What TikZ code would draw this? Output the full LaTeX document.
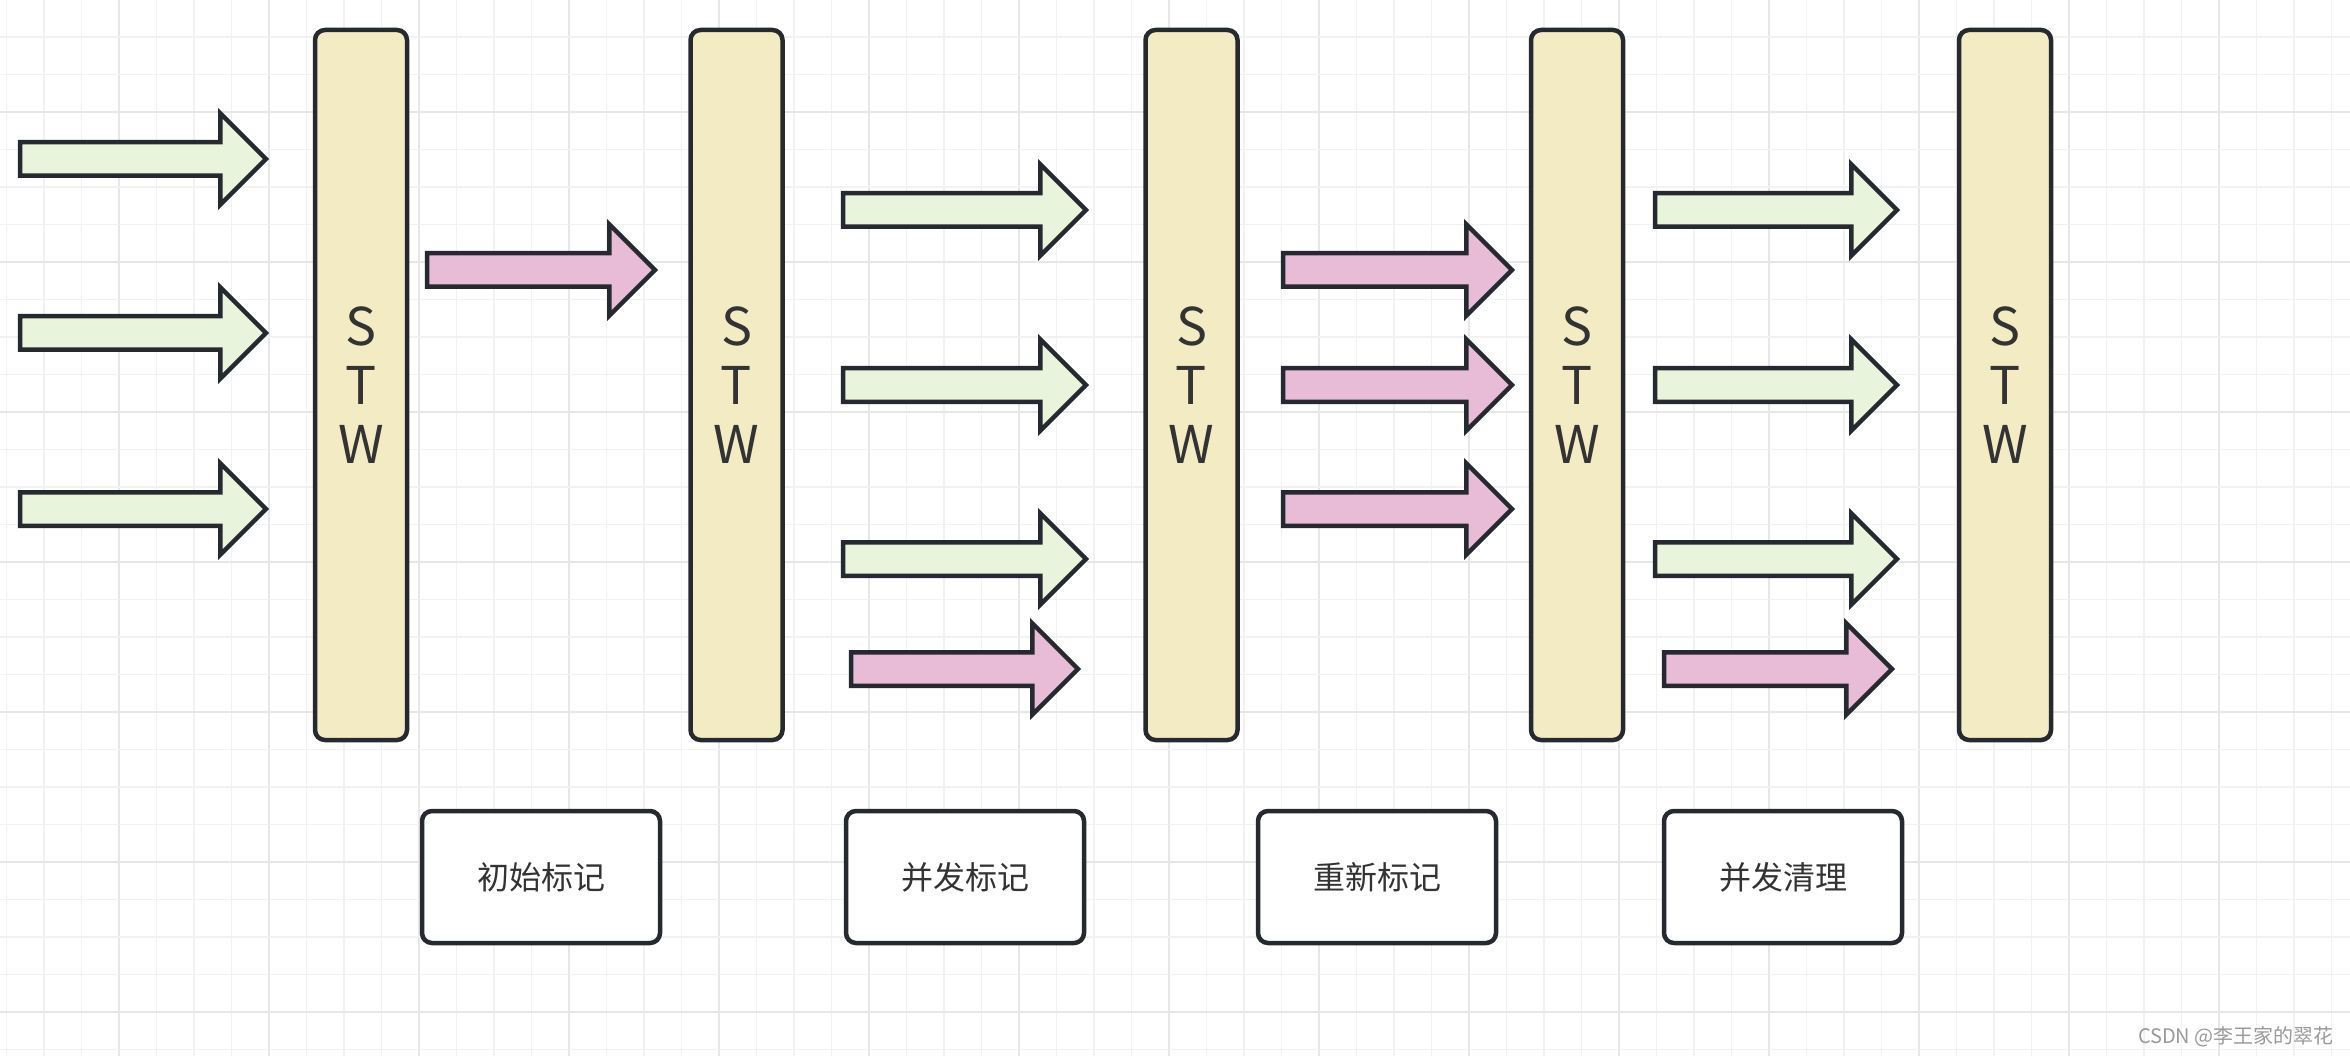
\documentclass[tikz,border=0pt]{standalone}
\usepackage{fontspec}
\setmainfont{Noto Sans CJK SC}
\usetikzlibrary{shapes.arrows}
\definecolor{stroke}{HTML}{262A30}
\definecolor{greenfill}{HTML}{E8F4DC}
\definecolor{pinkfill}{HTML}{E8BCD6}
\definecolor{stwfill}{HTML}{F3EBC4}
\definecolor{txt}{HTML}{333333}
\definecolor{gridminor}{HTML}{F2F2F2}
\definecolor{gridmajor}{HTML}{E7E7E7}
\definecolor{wmark}{HTML}{9A9A9A}
\begin{document}
\begin{tikzpicture}[x=1pt,y=-1pt,
  bigarrow/.style={single arrow, draw=stroke, line width=4.5pt, inner sep=0pt, outer sep=0pt,
    text height=29pt, text depth=0pt, single arrow head extend=29pt,
    single arrow tip angle=90, shape border rotate=0, anchor=tail},
  garrow/.style={bigarrow, fill=greenfill},
  parrow/.style={bigarrow, fill=pinkfill},
  stwbox/.style={draw=stroke, fill=stwfill, line width=4.5pt, rounded corners=10pt,
    minimum width=92pt, minimum height=710pt, inner sep=0pt, align=center, text=txt,
    font=\fontsize{52pt}{59pt}\selectfont},
  phasebox/.style={draw=stroke, fill=white, line width=4.5pt, rounded corners=10pt,
    minimum width=238pt, minimum height=132pt, inner sep=0pt, text=txt,
    font=\fontsize{32pt}{38pt}\selectfont},
  minorgrid/.style={draw=gridminor, line width=1.5pt},
  majorgrid/.style={draw=gridmajor, line width=2pt}]
\useasboundingbox (0,0) rectangle (2350,1056);
\fill[white] (0,0) rectangle (2350,1056);
% grid
\foreach \k in {0,...,62}{
  \pgfmathtruncatemacro{\m}{mod(\k,4)}
  \ifnum\m=3
    \draw[majorgrid] ({6.5+37.5*\k},0) -- ({6.5+37.5*\k},1056);
  \else
    \draw[minorgrid] ({6.5+37.5*\k},0) -- ({6.5+37.5*\k},1056);
  \fi
}
\foreach \k in {1,...,28}{
  \pgfmathtruncatemacro{\m}{mod(\k,4)}
  \ifnum\m=3
    \draw[majorgrid] (0,{37.5*\k-0.5}) -- (2350,{37.5*\k-0.5});
  \else
    \draw[minorgrid] (0,{37.5*\k-0.5}) -- (2350,{37.5*\k-0.5});
  \fi
}
% STW boxes
\node[stwbox] (stw1) at (361,385) {S\\T\\W};
\node[stwbox] (stw2) at (736.5,385) {S\\T\\W};
\node[stwbox] (stw3) at (1191.5,385) {S\\T\\W};
\node[stwbox] (stw4) at (1577,385) {S\\T\\W};
\node[stwbox] (stw5) at (2005,385) {S\\T\\W};
% group A
\node[garrow, minimum height=246pt] (a1) at (20,159) {};
\node[garrow, minimum height=246pt] (a2) at (20,333) {};
\node[garrow, minimum height=246pt] (a3) at (20,509) {};
% group pink 1
\node[parrow, minimum height=228pt] (b1) at (427,270) {};
% group C
\node[garrow, minimum height=243pt] (c1) at (843,210) {};
\node[garrow, minimum height=243pt] (c2) at (843,385) {};
\node[garrow, minimum height=243pt] (c3) at (843,559) {};
\node[parrow, minimum height=227pt] (c4) at (851,669) {};
% group D
\node[parrow, minimum height=229pt] (d1) at (1283,270) {};
\node[parrow, minimum height=229pt] (d2) at (1283,385) {};
\node[parrow, minimum height=229pt] (d3) at (1283,509) {};
% group E
\node[garrow, minimum height=242pt] (e1) at (1655,210) {};
\node[garrow, minimum height=242pt] (e2) at (1655,385) {};
\node[garrow, minimum height=242pt] (e3) at (1655,559) {};
\node[parrow, minimum height=228pt] (e4) at (1664,669) {};
% phase labels
\node[phasebox] (p1) at (541,877) {初始标记};
\node[phasebox] (p2) at (965,877) {并发标记};
\node[phasebox] (p3) at (1377,877) {重新标记};
\node[phasebox] (p4) at (1783,877) {并发清理};
% watermark
\node[anchor=east, inner sep=0pt, text=wmark, font=\fontsize{20pt}{24pt}\selectfont] (wm) at (2334,1037) {CSDN @李王家的翠花};
\end{tikzpicture}
\end{document}
